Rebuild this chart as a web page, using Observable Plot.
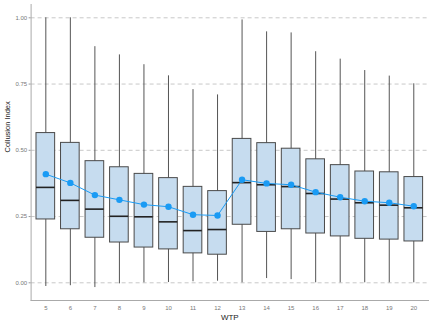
<!DOCTYPE html>
<html>
<head>
<meta charset="utf-8">
<script src="https://cdn.jsdelivr.net/npm/d3@7"></script>
<script src="https://cdn.jsdelivr.net/npm/@observablehq/plot@0.6"></script>
<style>
  html, body { margin: 0; padding: 0; background: #fff; }
  #chart { width: 432px; height: 324px; }
</style>
</head>
<body>
<div id="chart"></div>
<script>
const wtp     = [5, 6, 7, 8, 9, 10, 11, 12, 13, 14, 15, 16, 17, 18, 19, 20];
const whiskLo = [-0.014, -0.011, -0.018, -0.004, 0.000, 0.001, 0.004, 0.006, 0.000, 0.016, 0.012, 0.000, 0.000, 0.000, 0.000, 0.000];
const q1      = [0.239, 0.202, 0.170, 0.152, 0.133, 0.126, 0.111, 0.106, 0.219, 0.192, 0.202, 0.186, 0.175, 0.166, 0.163, 0.156];
const median  = [0.360, 0.311, 0.278, 0.251, 0.249, 0.230, 0.197, 0.201, 0.378, 0.370, 0.363, 0.337, 0.316, 0.302, 0.293, 0.283];
const q3      = [0.565, 0.528, 0.459, 0.436, 0.411, 0.395, 0.362, 0.346, 0.543, 0.527, 0.506, 0.466, 0.444, 0.420, 0.417, 0.399];
const whiskHi = [1.000, 1.000, 0.891, 0.860, 0.823, 0.781, 0.729, 0.709, 0.992, 0.947, 0.943, 0.872, 0.844, 0.801, 0.780, 0.751];
const means   = [0.410, 0.377, 0.331, 0.313, 0.295, 0.287, 0.257, 0.254, 0.389, 0.375, 0.370, 0.342, 0.323, 0.308, 0.302, 0.289];
const yTicks  = [0, 0.25, 0.5, 0.75, 1.0];
const yTickLabels = ["0.00", "0.25", "0.50", "0.75", "1.00"];

const rows = wtp.map((w, i) => ({
  wtp: w, lo: whiskLo[i], q1: q1[i], med: median[i], q3: q3[i], hi: whiskHi[i], mean: means[i]
}));
const halfW = 0.38;

const plot = Plot.plot({
  width: 432,
  height: 324,
  marginLeft: 30.6,
  marginRight: 4,
  marginTop: 4,
  marginBottom: 24,
  style: { fontFamily: "'Liberation Sans', Arial, sans-serif", background: "#fff" },
  x: { domain: [4.4, 20.6], ticks: wtp, tickFormat: d => String(d), tickSize: 0, tickPadding: 4, label: null },
  y: { domain: [-0.0668, 1.0502], ticks: yTicks, tickFormat: (d, i) => yTickLabels[i], tickSize: 2, tickPadding: 2, label: null },
  marks: [
    Plot.ruleY(yTicks, { stroke: "#c8c8c8", strokeDasharray: "4,3", strokeWidth: 1 }),
    Plot.ruleX(rows, { x: "wtp", y1: "lo", y2: "hi", stroke: "#555", strokeWidth: 1 }),
    Plot.rect(rows, { x1: d => d.wtp - halfW, x2: d => d.wtp + halfW, y1: "q1", y2: "q3",
      fill: "#c6dcef", stroke: "#4a4a4a", strokeWidth: 1 }),
    Plot.ruleY(rows, { y: "med", x1: d => d.wtp - halfW, x2: d => d.wtp + halfW, stroke: "#222", strokeWidth: 1.6 }),
    Plot.line(rows, { x: "wtp", y: "mean", stroke: "#1a9bf4", strokeWidth: 1 }),
    Plot.dot(rows, { x: "wtp", y: "mean", fill: "#1a9bf4", r: 3.2 }),
    Plot.axisX({ ticks: wtp, tickFormat: d => String(d), tickSize: 0, tickPadding: 5, fontSize: 6, fill: "#777", label: null }),
    Plot.axisY({ ticks: yTicks, tickFormat: (d, i) => yTickLabels[i], tickSize: 2, tickPadding: 2, fontSize: 6, fill: "#777", stroke: "#999", label: null }),
    Plot.frame({ anchor: "left", stroke: "#aaa", strokeWidth: 1 }),
    Plot.frame({ anchor: "bottom", stroke: "#aaa", strokeWidth: 1 }),
    Plot.text(["WTP"], { frameAnchor: "bottom", dy: 19, fontSize: 8, fill: "#222" }),
    Plot.text(["Collusion Index"], { frameAnchor: "left", dx: -24, rotate: -90, fontSize: 7.5, fill: "#222" })
  ]
});
document.getElementById("chart").appendChild(plot);
</script>
</body>
</html>
